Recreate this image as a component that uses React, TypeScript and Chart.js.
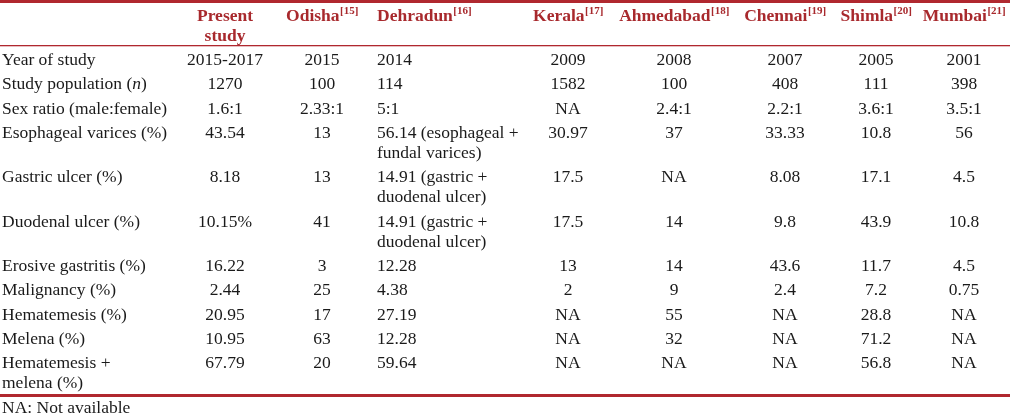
import React, { useEffect, useRef } from "react";
import { Chart, registerables } from "chart.js";

Chart.register(...registerables);

// ---------- data ----------
const columnNames = ["", "Present\nstudy", "Odisha", "Dehradun", "Kerala", "Ahmedabad", "Chennai", "Shimla", "Mumbai"];
const columnRefs = ["", "", "[15]", "[16]", "[17]", "[18]", "[19]", "[20]", "[21]"];

const rowLabels = [
  "Year of study",
  "Study population (_n_)",
  "Sex ratio (male:female)",
  "Esophageal varices (%)",
  "Gastric ulcer (%)",
  "Duodenal ulcer (%)",
  "Erosive gastritis (%)",
  "Malignancy (%)",
  "Hematemesis (%)",
  "Melena (%)",
  "Hematemesis +\nmelena (%)",
];
const presentStudy = ["2015-2017", "1270", "1.6:1", "43.54", "8.18", "10.15%", "16.22", "2.44", "20.95", "10.95", "67.79"];
const odisha = ["2015", "100", "2.33:1", "13", "13", "41", "3", "25", "17", "63", "20"];
const dehradun = [
  "2014",
  "114",
  "5:1",
  "56.14 (esophageal +\nfundal varices)",
  "14.91 (gastric +\nduodenal ulcer)",
  "14.91 (gastric +\nduodenal ulcer)",
  "12.28",
  "4.38",
  "27.19",
  "12.28",
  "59.64",
];
const kerala = ["2009", "1582", "NA", "30.97", "17.5", "17.5", "13", "2", "NA", "NA", "NA"];
const ahmedabad = ["2008", "100", "2.4:1", "37", "NA", "14", "14", "9", "55", "32", "NA"];
const chennai = ["2007", "408", "2.2:1", "33.33", "8.08", "9.8", "43.6", "2.4", "NA", "NA", "NA"];
const shimla = ["2005", "111", "3.6:1", "10.8", "17.1", "43.9", "11.7", "7.2", "28.8", "71.2", "56.8"];
const mumbai = ["2001", "398", "3.5:1", "56", "4.5", "10.8", "4.5", "0.75", "NA", "NA", "NA"];
const footnote = "NA: Not available";

// ---------- layout / style ----------
const W = 1010;
const H = 413;
const colAnchorX = [2, 225, 322, 377, 568, 674, 785, 876, 964];
const colAlign: CanvasTextAlign[] = ["left", "center", "center", "left", "center", "center", "center", "center", "center"];
const FONT_FAMILY = "'Liberation Serif', 'Times New Roman', serif";
const FONT_SIZE = 17.5;
const SUP_SIZE = 11;
const LINE_H = 20;
const TEXT_DY = 2;
const HEADER_Y = [14, 34];
const TOP_RULE = [0, 3];
const HEAD_RULE = [45, 1.3];
const BOTTOM_RULE = [394, 3];
const BODY_TOP = 46;
const BODY_BOTTOM = 394;
const NOTE_Y = 406;
const HEADER_COLOR = "#a8292d";
const RULE_COLOR = "#b0282f";
const TEXT_COLOR = "#1a1a1a";

const tablePlugin = {
  id: "tablePlugin",
  afterDraw(chart: any) {
    const ctx: CanvasRenderingContext2D = chart.ctx;
    const xs = chart.scales.x;
    const ys = chart.scales.y;
    const X = (v: number) => xs.getPixelForValue(v);
    const Y = (v: number) => ys.getPixelForValue(v);

    const columns = [rowLabels, presentStudy, odisha, dehradun, kerala, ahmedabad, chennai, shimla, mumbai];

    ctx.save();
    // rules
    ctx.fillStyle = RULE_COLOR;
    const rule = (r: number[]) => {
      const y0 = Y(r[0]);
      const y1 = Y(r[0] + r[1]);
      ctx.fillRect(X(0), Math.min(y0, y1), X(W) - X(0), Math.abs(y1 - y0));
    };
    rule(TOP_RULE);
    rule(HEAD_RULE);
    rule(BOTTOM_RULE);

    ctx.textBaseline = "middle";

    // header
    columnNames.forEach((name, ci) => {
      if (!name) return;
      const lines = name.split("\n");
      lines.forEach((line, li) => {
        const sup = li === 0 ? columnRefs[ci] : "";
        ctx.font = `bold ${FONT_SIZE}px ${FONT_FAMILY}`;
        const wMain = ctx.measureText(line).width;
        ctx.font = `bold ${SUP_SIZE}px ${FONT_FAMILY}`;
        const wSup = sup ? ctx.measureText(sup).width : 0;
        const total = wMain + wSup;
        let x = X(colAnchorX[ci]);
        if (colAlign[ci] === "center") x -= total / 2;
        const y = Y(HEADER_Y[li] + TEXT_DY);
        ctx.fillStyle = HEADER_COLOR;
        ctx.textAlign = "left";
        ctx.font = `bold ${FONT_SIZE}px ${FONT_FAMILY}`;
        ctx.fillText(line, x, y);
        if (sup) {
          ctx.font = `bold ${SUP_SIZE}px ${FONT_FAMILY}`;
          ctx.fillText(sup, x + wMain + 0.5, y - 5);
        }
      });
    });

    // body
    const rowLineCounts = rowLabels.map((_, ri) =>
      Math.max(...columns.map((col) => col[ri].split("\n").length))
    );
    const totalLines = rowLineCounts.reduce((a, b) => a + b, 0);
    const pad = (BODY_BOTTOM - BODY_TOP - totalLines * LINE_H) / rowLabels.length;

    const drawRich = (text: string, ax: number, y: number, align: CanvasTextAlign) => {
      const segs = text.split("_");
      const fonts = segs.map((_, i) => (i % 2 === 1 ? `italic ${FONT_SIZE}px ${FONT_FAMILY}` : `${FONT_SIZE}px ${FONT_FAMILY}`));
      const widths = segs.map((s, i) => {
        ctx.font = fonts[i];
        return ctx.measureText(s).width;
      });
      const total = widths.reduce((a, b) => a + b, 0);
      let x = align === "center" ? ax - total / 2 : ax;
      ctx.textAlign = "left";
      segs.forEach((s, i) => {
        ctx.font = fonts[i];
        ctx.fillText(s, x, y);
        x += widths[i];
      });
    };

    let top = BODY_TOP;
    rowLabels.forEach((_, ri) => {
      columns.forEach((col, ci) => {
        const lines = col[ri].split("\n");
        lines.forEach((line, li) => {
          ctx.fillStyle = TEXT_COLOR;
          drawRich(line, X(colAnchorX[ci]), Y(top + pad / 2 + LINE_H / 2 + li * LINE_H + TEXT_DY), colAlign[ci]);
        });
      });
      top += rowLineCounts[ri] * LINE_H + pad;
    });

    // footnote
    ctx.fillStyle = TEXT_COLOR;
    drawRich(footnote, X(2), Y(NOTE_Y + TEXT_DY), "left");
    ctx.restore();
  },
};

export default function App() {
  const ref = useRef<HTMLCanvasElement | null>(null);
  useEffect(() => {
    document.body.style.margin = "0";
    if (!ref.current) return;
    const chart = new Chart(ref.current, {
      type: "scatter",
      data: { datasets: [] },
      options: {
        animation: false,
        responsive: false,
        devicePixelRatio: 1,
        layout: { padding: 0 },
        plugins: { legend: { display: false }, tooltip: { enabled: false } },
        scales: {
          x: { type: "linear", min: 0, max: W, display: false },
          y: { type: "linear", min: 0, max: H, reverse: true, display: false },
        },
      },
      plugins: [tablePlugin],
    });
    return () => chart.destroy();
  }, []);
  return (
    <div style={{ width: W, height: H, background: "#fff" }}>
      <canvas ref={ref} width={W} height={H} style={{ width: W, height: H, display: "block" }} />
    </div>
  );
}
